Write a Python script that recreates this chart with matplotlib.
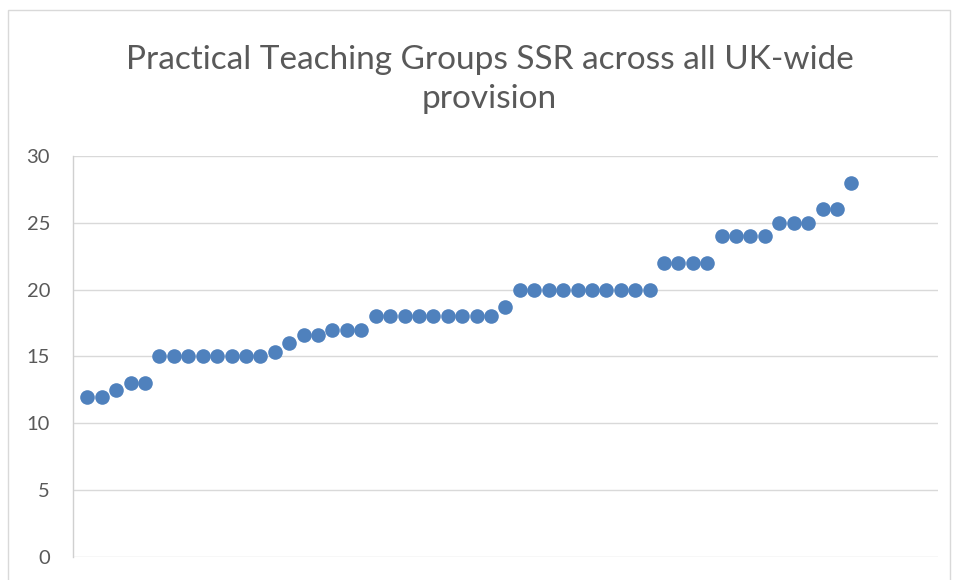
import matplotlib
matplotlib.use("Agg")
import matplotlib.pyplot as plt
from matplotlib.patches import Rectangle

# SSR per practical teaching group, sorted
ssr = [12, 12, 12.5, 13, 13,
       15, 15, 15, 15, 15, 15, 15, 15,
       15.3, 16, 16.6, 16.6, 17, 17, 17,
       18, 18, 18, 18, 18, 18, 18, 18, 18,
       18.7,
       20, 20, 20, 20, 20, 20, 20, 20, 20, 20,
       22, 22, 22, 22,
       24, 24, 24, 24,
       25, 25, 25,
       26, 26,
       28]
idx = list(range(1, len(ssr) + 1))
yticks = [0, 5, 10, 15, 20, 25, 30]
title = "Practical Teaching Groups SSR across all UK-wide\nprovision"

plt.rcParams['font.family'] = ['Lato', 'DejaVu Sans']
grey = '#595959'

fig = plt.figure(figsize=(9.58, 5.8), dpi=100)
ax = fig.add_axes([0.0762, 0.0397, 0.9028, 0.6913])

ax.plot(idx, ssr, 'o', color='#4f81bd', markersize=10.5, markeredgewidth=0)

ax.set_xlim(0, 60)
ax.set_ylim(0, 30)
ax.set_yticks(yticks)
ax.set_xticks([])
ax.tick_params(axis='y', length=0, labelsize=14.5, labelcolor=grey, pad=16.5)
ax.grid(axis='y', color='#d9d9d9', linewidth=1)
ax.set_axisbelow(True)
for s in ['top', 'right', 'bottom']:
    ax.spines[s].set_visible(False)
ax.spines['left'].set_color('#d0d0d0')
ax.spines['left'].set_linewidth(1)

fig.text(0.511, 0.863, title, ha='center', va='center', fontsize=24,
         color=grey, linespacing=1.38)

# chart border
fig.patches.append(Rectangle((8 / 958, -0.01), 942 / 958, 0.993, transform=fig.transFigure,
                             fill=False, edgecolor='#d9d9d9', linewidth=1))

fig.savefig('out.png', dpi=100)
